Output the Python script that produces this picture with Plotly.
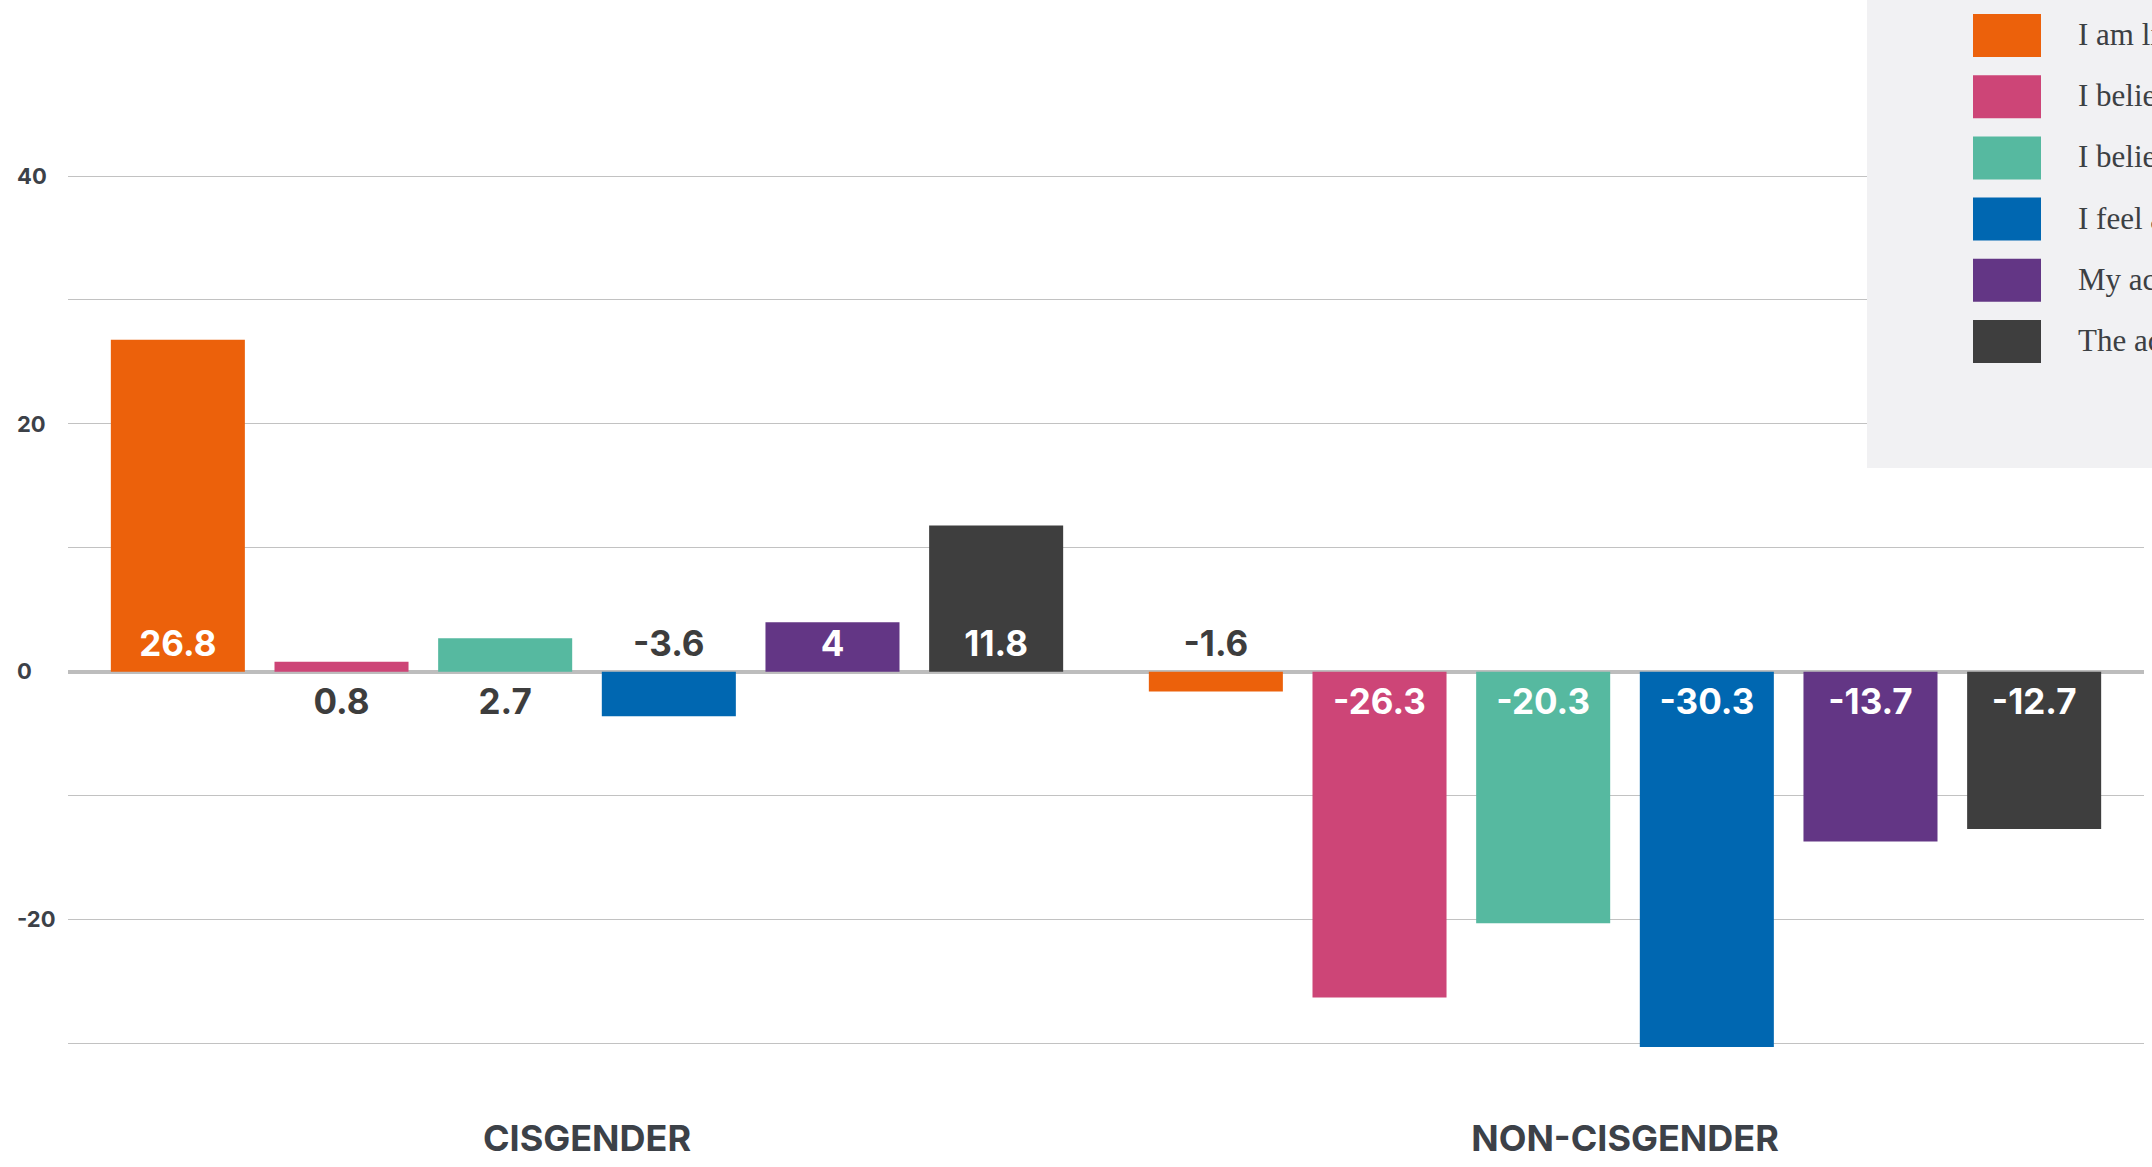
import plotly.graph_objects as go

# ---------------- data ----------------
categories = ["CISGENDER", "NON-CISGENDER"]
series_names = [
    "I am likely to stay with my organization",
    "I believe I can be my authentic self at work",
    "I believe my organization values diversity",
    "I feel a sense of belonging at work",
    "My accomplishments are recognized",
    "The actions of leadership show commitment",
]
cisgender_values = [26.8, 0.8, 2.7, -3.6, 4, 11.8]
non_cisgender_values = [-1.6, -26.3, -20.3, -30.3, -13.7, -12.7]
y_tick_values = [-20, 0, 20, 40]
y_tick_labels = ["-20", "0", "20", "40"]

# ---------------- style ----------------
colors = ["#EC610B", "#CD4577", "#56B9A0", "#0067B1", "#633685", "#3E3E3E"]
W, H = 2152, 1167
ML, MR, MT, MB = 13, 8, 60, 67
PLOT_LEFT = 68
LABEL_FONT = "Inter, 'DejaVu Sans', sans-serif"
DARK = "#3D3D3D"
AXIS_TEXT = "#3C4148"
INSIDE_MIN = 4        # bars smaller than this get their label on the other side of zero
NUDGE = 0.4           # label anchor offset from the zero line

paper_w = W - ML - MR
paper_h = H - MT - MB


def px_x(px):
    return (px - ML) / paper_w


def px_y(py):
    return (H - MB - py) / paper_h


fig = go.Figure()
for i, name in enumerate(series_names):
    vals = [cisgender_values[i], non_cisgender_values[i]]
    fig.add_trace(go.Bar(
        x=categories, y=vals, name=name, offsetgroup=str(i),
        marker=dict(color=colors[i], line=dict(width=0)),
        textposition="none", hoverinfo="name+y",
    ))
    # value labels next to the zero line: inside the bar when it is tall enough,
    # otherwise on the opposite side of zero
    fits = [abs(v) >= INSIDE_MIN for v in vals]
    side = [(1 if v > 0 else -1) * (1 if f else -1) for v, f in zip(vals, fits)]
    fig.add_trace(go.Bar(
        x=categories, y=[s * NUDGE for s in side], offsetgroup=str(i), showlegend=False,
        marker=dict(color="rgba(0,0,0,0)", line=dict(width=0)),
        text=[f"{v:g}" for v in vals], textposition="outside", textangle=0,
        outsidetextfont=dict(color=["white" if f else DARK for f in fits],
                             size=35, family=LABEL_FONT, weight=700),
        cliponaxis=False, hoverinfo="skip",
    ))

# custom legend (large swatches, clipped on the right like the original)
shapes = [dict(type="rect", xref="paper", yref="paper", layer="above",
               x0=px_x(1867), x1=px_x(W + 20), y0=px_y(468), y1=px_y(-20),
               fillcolor="#F1F1F3", line=dict(width=0))]
annotations = []
for i, name in enumerate(series_names):
    top = 14 + 61.2 * i
    shapes.append(dict(type="rect", xref="paper", yref="paper", layer="above",
                       x0=px_x(1973), x1=px_x(2041), y0=px_y(top + 43), y1=px_y(top),
                       fillcolor=colors[i], line=dict(width=0)))
    annotations.append(dict(xref="paper", yref="paper", x=px_x(2076), y=px_y(top + 20.5),
                            xanchor="left", yanchor="middle", showarrow=False,
                            text=name, align="left",
                            font=dict(family="'Liberation Serif', 'Times New Roman', serif",
                                      size=31, color="#3C4043")))

fig.update_layout(
    width=W, height=H,
    margin=dict(l=ML, r=MR, t=MT, b=MB, autoexpand=False),
    paper_bgcolor="white", plot_bgcolor="white",
    barmode="group", bargap=0.054, bargroupgap=0.181,
    showlegend=False,
    shapes=shapes, annotations=annotations,
    xaxis=dict(domain=[px_x(PLOT_LEFT), 1], showgrid=False, showline=False,
               ticks="", ticklabelstandoff=14,
               tickfont=dict(family=LABEL_FONT, size=36, color=AXIS_TEXT, weight=700)),
    yaxis=dict(range=[-34.57, 49.37], anchor="free", position=0,
               tickvals=y_tick_values, ticktext=y_tick_labels,
               ticklabelposition="inside", ticks="",
               showgrid=True, gridcolor="#C2C2C2", gridwidth=1,
               minor=dict(dtick=10, tick0=0, showgrid=True, gridcolor="#C2C2C2", gridwidth=1),
               zeroline=True, zerolinecolor="#BDBDBD", zerolinewidth=4,
               showline=False,
               tickfont=dict(family=LABEL_FONT, size=22, color=AXIS_TEXT, weight=700)),
)

fig.write_html("out.html")
